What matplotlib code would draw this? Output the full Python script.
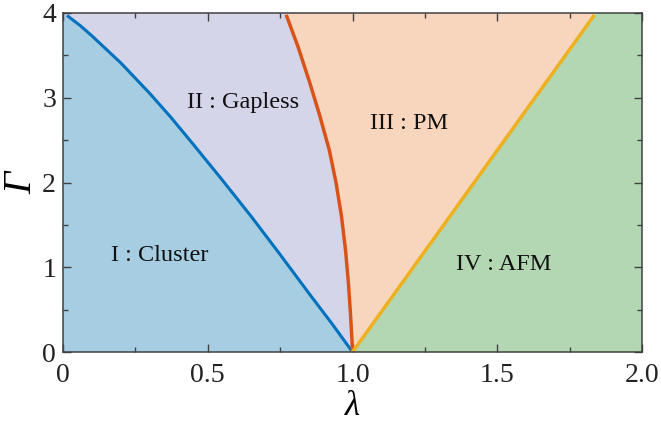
import numpy as np
import matplotlib
matplotlib.use("Agg")
import matplotlib.pyplot as plt

# Phase boundaries
blue_lam = [0.018, 0.06, 0.10, 0.15, 0.20, 0.25, 0.30, 0.37, 0.45, 0.55, 0.65, 0.75, 0.85, 0.93, 1.00]
blue_gam = [3.96, 3.85, 3.73, 3.57, 3.41, 3.23, 3.05, 2.78, 2.45, 2.03, 1.60, 1.15, 0.69, 0.33, 0.00]

red_lam = [0.773, 0.812, 0.853, 0.886, 0.920, 0.943, 0.962, 0.976, 0.986, 0.993, 0.998, 1.00]
red_gam = [3.96, 3.60, 3.17, 2.80, 2.38, 2.00, 1.60, 1.20, 0.81, 0.45, 0.15, 0.00]

yel_lam = [1.00, 1.832]
yel_gam = [0.00, 3.96]

labels = ["I : Cluster", "II : Gapless", "III : PM", "IV : AFM"]
label_lam = [0.335, 0.622, 1.197, 1.522]
label_gam = [1.14, 2.94, 2.70, 1.03]

xticks = [0, 0.5, 1.0, 1.5, 2.0]
xticklabels = ["0", "0.5", "1.0", "1.5", "2.0"]
yticks = [0, 1, 2, 3, 4]

c_I = "#a6cde2"
c_II = "#d5d5ea"
c_III = "#f8d6bd"
c_IV = "#b2d7b2"
lc_blue = "#0072BD"
lc_red = "#D95319"
lc_yel = "#EDB120"

plt.rcParams['font.family'] = ['Liberation Serif', 'DejaVu Serif']

fig = plt.figure(figsize=(6.61, 4.24), dpi=100)
ax = fig.add_axes([63/661, 1 - 352/424, (642-63)/661, (352-13)/424])

def ext_top(lam, gam):
    lam = list(lam); gam = list(gam)
    s = (lam[1]-lam[0])/(gam[1]-gam[0])
    l4 = lam[0] + s*(4-gam[0])
    return [l4] + lam, [4] + gam

bl, bg = ext_top(blue_lam, blue_gam)   # top -> bottom
rl, rg = ext_top(red_lam, red_gam)     # top -> bottom
s_y = (yel_lam[1]-yel_lam[0])/(yel_gam[1]-yel_gam[0])
yl = [yel_lam[0], yel_lam[0] + s_y*4]  # bottom -> top
yg = [0, 4]

ax.fill([0, 0] + bl, [0, 4] + bg, color=c_I, lw=0)
ax.fill(bl + rl[::-1], bg + rg[::-1], color=c_II, lw=0)
ax.fill(rl + yl, rg + yg, color=c_III, lw=0)
ax.fill(yl + [2, 2], yg + [4, 0], color=c_IV, lw=0)

ax.plot(blue_lam, blue_gam, color=lc_blue, lw=2.2, solid_joinstyle='round')
ax.plot(red_lam, red_gam, color=lc_red, lw=2.5, solid_joinstyle='round')
ax.plot(yel_lam, yel_gam, color=lc_yel, lw=2.5)

for t, x, y in zip(labels, label_lam, label_gam):
    ax.text(x, y, t, fontsize=17.5, ha='center', va='center', color='#111111')

ax.set_xlim(0, 2)
ax.set_ylim(0, 4)
ax.set_xticks(xticks)
ax.set_xticklabels(xticklabels)
ax.set_yticks(yticks)
ax.set_xticks(np.arange(0, 2.01, 0.25), minor=True)
ax.set_yticks(np.arange(0, 4.01, 0.5), minor=True)
ax.tick_params(which='both', direction='in', top=True, right=True, colors='#404040', labelcolor='#222222')
ax.tick_params(which='major', length=5.5, width=1, labelsize=20, pad=5)
ax.tick_params(axis='x', which='major', pad=8)
ax.tick_params(which='minor', length=3.5, width=1)
for s in ax.spines.values():
    s.set_color('#404040')
    s.set_linewidth(1.1)

ax.set_xlabel('λ', fontsize=25, fontstyle='italic', labelpad=1.5)
ax.set_ylabel('Γ', fontsize=28, fontstyle='italic', labelpad=1)

fig.savefig("out.png", dpi=100)
